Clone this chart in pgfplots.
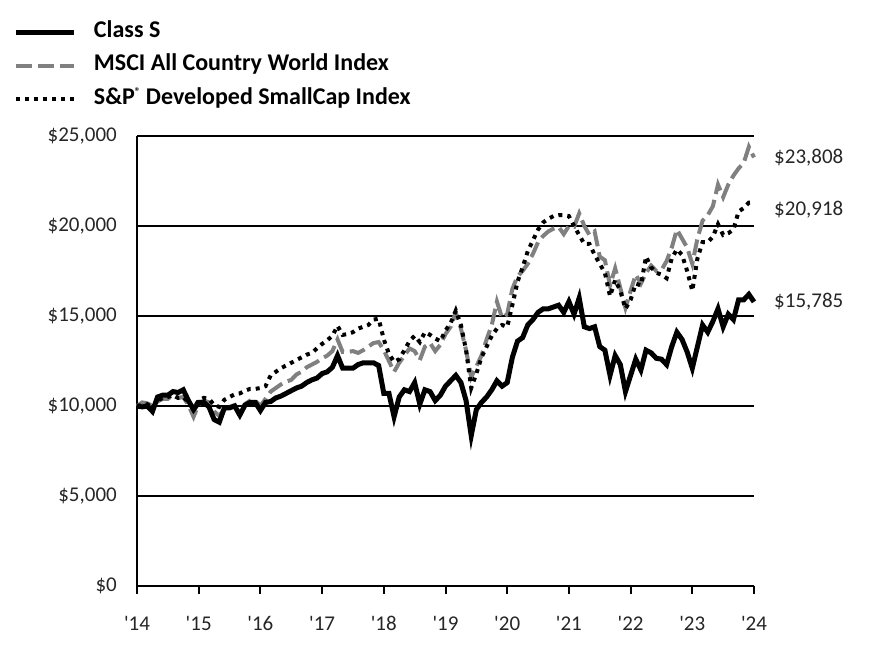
\documentclass[border=0pt]{standalone}
\usepackage{fontspec}
\setmainfont{Carlito}
\usepackage{pgfplots}
\usepackage{pgfplotstable}
\pgfplotsset{compat=1.18}
\definecolor{msci}{RGB}{128,128,128}

\pgfplotstableread{
m S A P
0 10000 10000 10000
1 9950 10200 10050
2 10000 10150 10100
3 9700 10000 9900
4 10500 10250 10300
5 10600 10400 10450
6 10600 10400 10500
7 10800 10600 10600
8 10750 10450 10450
9 10900 10500 10500
10 10300 10050 10200
11 9800 9400 9900
12 10200 10100 10300
13 10200 10300 10450
14 9950 10200 10400
15 9250 9700 10050
16 9100 9450 9950
17 9900 9850 10350
18 9900 9950 10500
19 10000 10050 10650
20 9500 9400 10700
21 10050 10100 10850
22 10200 10300 10950
23 10200 10300 10950
24 9750 10000 11000
25 10200 10400 11100
26 10250 10800 11700
27 10450 11000 11900
28 10550 11200 12100
29 10700 11350 12250
30 10850 11450 12400
31 11000 11750 12550
32 11100 11900 12700
33 11300 12150 12850
34 11450 12300 12950
35 11550 12450 13200
36 11800 12650 13450
37 11900 12800 13650
38 12150 13050 13900
39 12800 13700 14450
40 12100 13000 13950
41 12100 13000 14000
42 12100 13050 14100
43 12300 12950 14300
44 12400 13100 14400
45 12400 13300 14500
46 12400 13500 14800
47 12250 13550 14850
48 10700 13100 13700
49 10700 12500 12900
50 9400 11900 12450
51 10500 12400 12600
52 10900 12800 13100
53 10800 13200 13600
54 11300 13050 13900
55 10100 12550 13550
56 10900 13300 14100
57 10800 13500 13950
58 10300 13050 13750
59 10600 13400 13600
60 11100 14000 14200
61 11400 14400 14600
62 11700 15200 15300
63 11300 14300 14500
64 10300 13100 13100
65 8350 11600 11000
66 9800 12200 11800
67 10200 12800 12700
68 10500 13700 13300
69 10900 14500 13900
70 11400 15800 14300
71 11100 14900 14500
72 11300 15100 14400
73 12700 16500 15600
74 13600 17200 16900
75 13800 17500 17700
76 14500 17900 18600
77 14800 18450 19200
78 15200 19100 19800
79 15400 19450 20200
80 15400 19700 20400
81 15500 19850 20550
82 15600 19950 20600
83 15200 19550 20600
84 15800 20000 20550
85 15100 19950 20000
86 16000 20700 19500
87 14400 20000 19000
88 14300 19500 19000
89 14400 19700 18400
90 13300 18300 17900
91 13100 18100 17400
92 11700 16700 16100
93 12800 17650 17000
94 12300 16550 16400
95 10800 15450 15400
96 11700 16400 15900
97 12600 17300 16800
98 12000 16800 16700
99 13100 17400 18300
100 12950 17800 17700
101 12650 17500 17400
102 12600 17550 17300
103 12300 18050 17100
104 13300 18800 18200
105 14100 19800 18700
106 13700 19300 18400
107 13000 18800 17500
108 12100 17900 16400
109 13300 19300 18200
110 14500 20300 19100
111 14100 20600 19100
112 14700 21100 19400
113 15400 22300 20100
114 14400 21600 19500
115 15100 22300 19600
116 14800 22800 19800
117 15900 23200 20800
118 15900 23500 21000
119 16200 24400 21300
120 15785 23808 21300
}\datatable

\begin{document}
\fontsize{21bp}{25bp}\selectfont
\begin{tikzpicture}
\path[use as bounding box] (0,0) rectangle (876bp,672bp);
\begin{axis}[
  at={(137bp,86bp)}, anchor=south west,
  scale only axis, width=617bp, height=450bp,
  xmin=0, xmax=120, ymin=0, ymax=25000,
  clip=false,
  axis x line*=bottom, axis y line*=left,
  axis line style={line width=2.5bp, -},
  xtick={0,12,...,120},
  xticklabels={\textquotesingle14,\textquotesingle15,\textquotesingle16,\textquotesingle17,\textquotesingle18,\textquotesingle19,\textquotesingle20,\textquotesingle21,\textquotesingle22,\textquotesingle23,\textquotesingle24},
  ytick={0,5000,10000,15000,20000,25000},
  yticklabels={{\$0},{\$5,000},{\$10,000},{\$15,000},{\$20,000},{\$25,000}},
  scaled y ticks=false,
  ymajorgrids,
  major grid style={black, line width=2bp},
  tick align=outside,
  major tick length=8bp,
  x tick style={black, line width=2bp},
  y tick style={draw=none},
  tick label style={font=\fontsize{21bp}{25bp}\selectfont, text=black!85},
  xticklabel style={anchor=north, inner sep=0pt, yshift=-22bp},
  yticklabel style={anchor=east, inner sep=0pt, xshift=-12bp},
  legend style={at={(axis description cs:-0.1994,1.2533)}, anchor=north west,
    draw=none, fill=none, inner sep=0pt, outer sep=0pt,
    row sep=13.5bp, column sep=17bp,
    nodes={inner sep=0pt, text height=15bp, text depth=5bp,
      font=\bfseries\fontsize{24bp}{28bp}\selectfont}},
  legend cell align=left,
  legend image code/.code={\draw[#1] (0bp,0bp) -- (58bp,0bp);},
]
\addlegendimage{black, line width=5bp}
\addlegendentry{Class S}
\addlegendimage{msci, line width=4bp, dash pattern=on 16bp off 6bp}
\addlegendentry{MSCI All Country World Index}
\addlegendimage{black, line width=4bp, dash pattern=on 4bp off 5bp}
\addlegendentry{S\&P\raisebox{0.7ex}{\fontsize{11bp}{11bp}\selectfont\textregistered} Developed SmallCap Index}

\addplot[forget plot, msci, line width=4bp, dash pattern=on 16bp off 6bp] table[x=m, y=A] {\datatable};
\addplot[forget plot, black, line width=4bp, dash pattern=on 4bp off 5bp] table[x=m, y=P] {\datatable};
\addplot[forget plot, black, line width=5bp] table[x=m, y=S] {\datatable};

\node[anchor=west, xshift=13bp, text=black!85, font=\fontsize{21bp}{25bp}\selectfont] at (axis cs:120,23808) {\$23,808};
\node[anchor=west, xshift=13bp, text=black!85, font=\fontsize{21bp}{25bp}\selectfont] at (axis cs:120,20918) {\$20,918};
\node[anchor=west, xshift=13bp, text=black!85, font=\fontsize{21bp}{25bp}\selectfont] at (axis cs:120,15785) {\$15,785};
\end{axis}
\end{tikzpicture}
\end{document}
